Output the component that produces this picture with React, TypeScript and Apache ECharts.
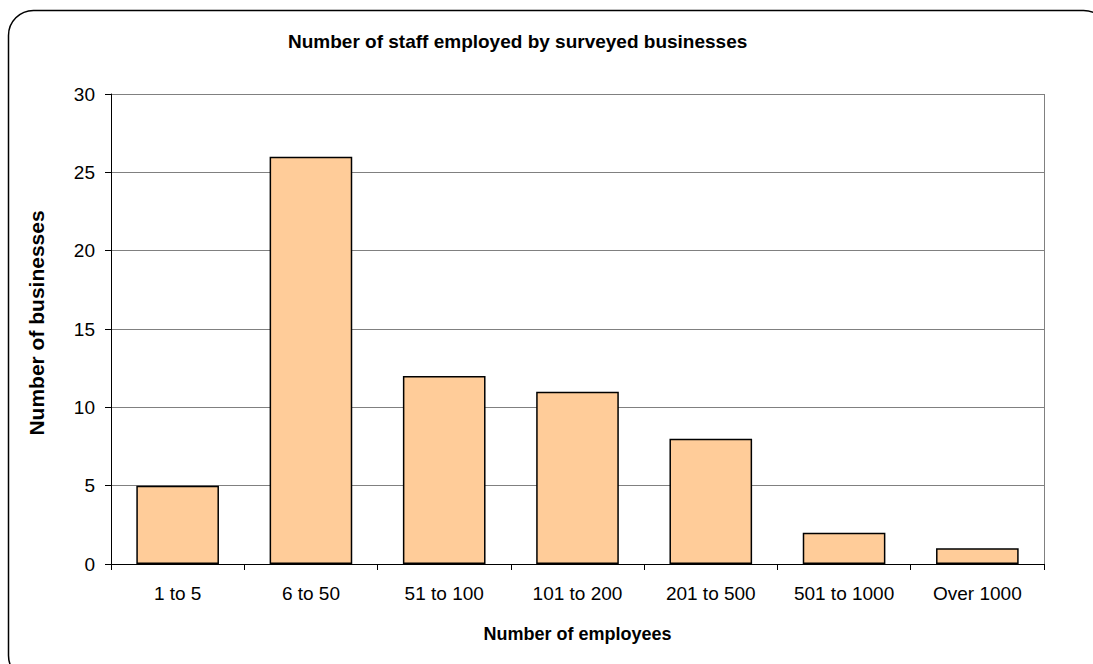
import React, { useEffect, useRef } from "react";
import * as echarts from "echarts";

const categories = ["1 to 5", "6 to 50", "51 to 100", "101 to 200", "201 to 500", "501 to 1000", "Over 1000"];
const businessCounts = [5, 26, 12, 11, 8, 2, 1];
const chartTitle = "Number of staff employed by surveyed businesses";
const xAxisTitle = "Number of employees";
const yAxisTitle = "Number of businesses";

const FONT = "'Liberation Sans', Arial, sans-serif";

export default function App() {
  const ref = useRef<HTMLDivElement>(null);
  useEffect(() => {
    if (!ref.current) return;
    const chart = echarts.init(ref.current, undefined, { renderer: "svg" });
    chart.setOption({
      animation: false,
      backgroundColor: "#ffffff",
      title: {
        text: chartTitle,
        left: 288,
        top: 32,
        padding: 0,
        textStyle: { fontFamily: FONT, fontSize: 19, fontWeight: "bold", color: "#000" },
      },
      graphic: [
        {
          type: "rect",
          shape: { x: 8.5, y: 10.5, width: 1100, height: 670, r: 25 },
          style: { fill: "none", stroke: "#000", lineWidth: 1.5 },
          silent: true,
        },
        {
          type: "line",
          shape: { x1: 1044.5, y1: 94, x2: 1044.5, y2: 564 },
          style: { stroke: "#808080", lineWidth: 1 },
          silent: true,
          z: 1,
        },
        {
          type: "text",
          x: 36,
          y: 323,
          rotation: Math.PI / 2,
          style: {
            text: yAxisTitle,
            fontFamily: FONT,
            fontSize: 21,
            fontWeight: "bold",
            fill: "#000",
            align: "center",
            verticalAlign: "middle",
          },
          silent: true,
        },
      ],
      grid: { left: 111, right: 49, top: 94, bottom: 100, containLabel: false },
      xAxis: {
        type: "category",
        data: categories,
        boundaryGap: true,
        name: xAxisTitle,
        nameLocation: "middle",
        nameGap: 61,
        nameTextStyle: { fontFamily: FONT, fontSize: 18, fontWeight: "bold", color: "#000" },
        axisLine: { lineStyle: { color: "#000", width: 1 } },
        axisTick: { show: true, length: 6, lineStyle: { color: "#000" } },
        axisLabel: { fontFamily: FONT, fontSize: 19, color: "#000", margin: 20, interval: 0 },
        splitLine: { show: false },
      },
      yAxis: {
        type: "value",
        min: 0,
        max: 30,
        interval: 5,
        axisLine: { show: true, lineStyle: { color: "#000", width: 1 } },
        axisTick: { show: true, length: 6, lineStyle: { color: "#000" } },
        axisLabel: { fontFamily: FONT, fontSize: 19, color: "#000", margin: 16 },
        splitLine: { show: true, lineStyle: { color: "#808080", width: 1 } },
      },
      series: [
        {
          type: "bar",
          data: businessCounts,
          barWidth: "62%",
          itemStyle: { color: "#FFCC99", borderColor: "#000", borderWidth: 1.5 },
        },
      ],
    });
    return () => chart.dispose();
  }, []);
  return (
    <div
      ref={ref}
      style={{ position: "fixed", left: 0, top: 0, width: 1093, height: 664, background: "#fff" }}
    />
  );
}
